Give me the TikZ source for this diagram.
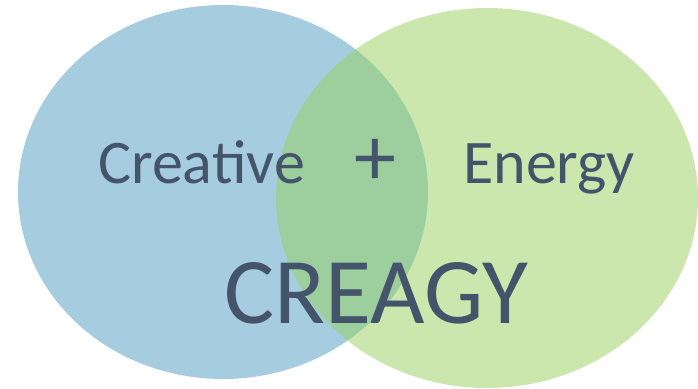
\documentclass[tikz,border=0pt]{standalone}
\usepackage{fontspec}
\setmainfont{Carlito}
\usepackage{tikz}
\definecolor{creablue}{RGB}{165,205,223}
\definecolor{creagreen}{RGB}{151,207,93}
\definecolor{creatext}{RGB}{68,84,106}
\tikzstyle{word} = [text=creatext, inner sep=0, font=\fontsize{62}{62}\selectfont]
\tikzstyle{bigword} = [text=creatext, inner sep=0, font=\fontsize{94}{94}\selectfont]

\begin{document}
\begin{tikzpicture}[x=1pt, y=-1pt]
        \useasboundingbox (0,0) rectangle (698,388);
        % the two circles
        \fill [creablue] (223,192) ellipse [x radius=205, y radius=187];
        \fill [creagreen, opacity=0.5] (487,198) ellipse [x radius=211, y radius=190];

        \node [word, anchor=base west] (creative) at (98,183) {Creative};
        \node [word, font=\fontsize{84}{84}\selectfont] (plus) at (375,162) {+};
        \node [word, anchor=base west] (energy) at (463,183) {Energy};
        \node [bigword, anchor=base] (creagy) at (376,323) {CREAGY};
    \end{tikzpicture}
\end{document}
